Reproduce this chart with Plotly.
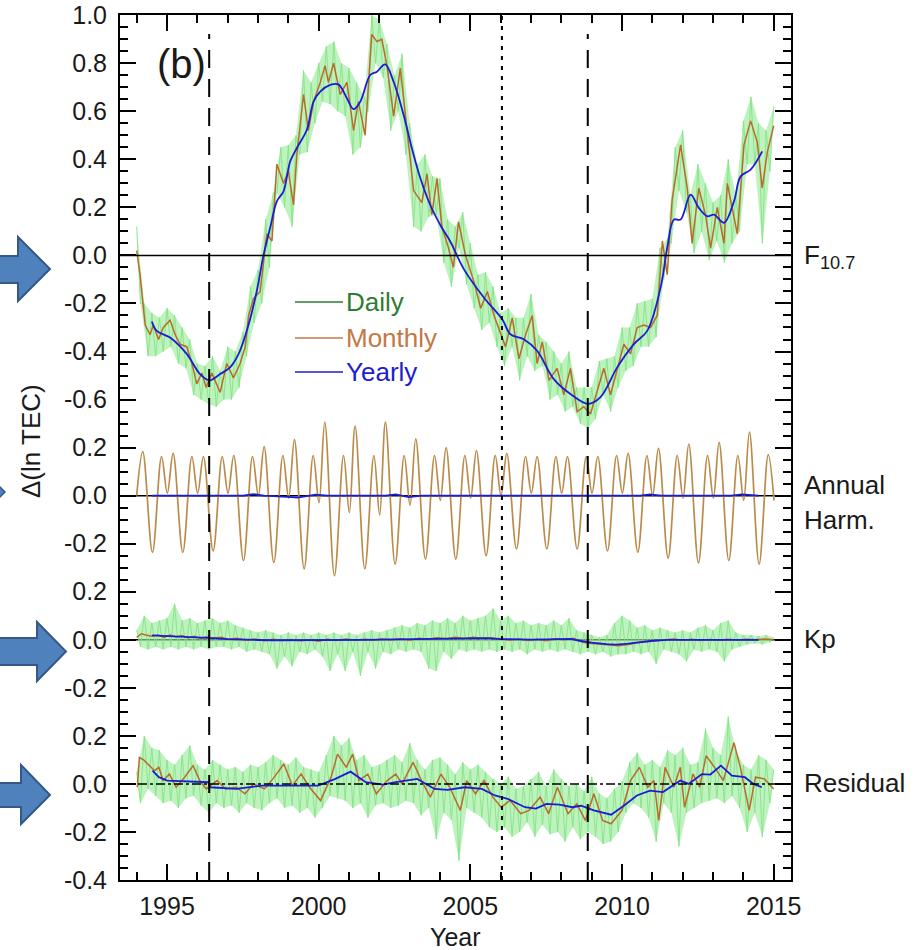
import numpy as np
import plotly.graph_objects as go

# ===================== DATA =====================
# Panel zero offsets on the shared stacked y-axis, and the tick values labelled in each panel
PANEL_OFFSET = {"F10.7": 0.0, "Annual": -1.0, "Kp": -1.6, "Residual": -2.2}
PANEL_TICKS = {
    "F10.7": [1.0, 0.8, 0.6, 0.4, 0.2, 0.0, -0.2, -0.4, -0.6],
    "Annual": [0.2, 0.0, -0.2],
    "Kp": [0.2, 0.0, -0.2],
    "Residual": [0.2, 0.0, -0.2, -0.4],
}
X_TICK_YEARS = [1995, 2000, 2005, 2010, 2015]
EVENT_DASHED = [1996.39, 2008.87]      # solar minima
EVENT_DOTTED = [2006.04]

# Daily series sampled as upper/lower excursions: upper at 1994.0+0.25k, lower at 1994.125+0.25k
DAILY_T0_HI = 1994.0
DAILY_T0_LO = 1994.125
DAILY_STEP = 0.25

# ---- F10.7 term ----
F_MONTHLY_T = [1994.00, 1994.11, 1994.28, 1994.44, 1994.55, 1994.72, 1994.88, 1995.10, 1995.27, 1995.43, 1995.65, 1995.82,
               1995.98, 1996.15, 1996.29, 1996.48, 1996.75, 1996.97, 1997.19, 1997.41, 1997.58, 1997.69, 1997.85, 1998.07,
               1998.29, 1998.46, 1998.62, 1998.84, 1999.00, 1999.17, 1999.28, 1999.50, 1999.66, 1999.83, 2000.05, 2000.21,
               2000.32, 2000.49, 2000.71, 2000.93, 2001.15, 2001.31, 2001.53, 2001.75, 2001.92, 2002.08, 2002.25, 2002.47,
               2002.69, 2002.91, 2003.13, 2003.40, 2003.57, 2003.73, 2003.90, 2004.06, 2004.28, 2004.44, 2004.61, 2004.84,
               2005.12, 2005.34, 2005.56, 2005.78, 2006.00, 2006.16, 2006.38, 2006.60, 2006.82, 2007.04, 2007.20, 2007.37,
               2007.59, 2007.86, 2008.08, 2008.30, 2008.52, 2008.74, 2008.96, 2009.18, 2009.40, 2009.62, 2009.84, 2010.06,
               2010.28, 2010.50, 2010.72, 2010.94, 2011.16, 2011.33, 2011.49, 2011.65, 2011.93, 2012.15, 2012.31, 2012.53,
               2012.75, 2012.92, 2013.14, 2013.36, 2013.47, 2013.80, 2014.02, 2014.24, 2014.46, 2014.62, 2014.79, 2015.00]
F_MONTHLY_V = [0.02, -0.08, -0.29, -0.33, -0.29, -0.35, -0.30, -0.27, -0.33, -0.37, -0.38, -0.45,
               -0.535, -0.49, -0.55, -0.49, -0.57, -0.45, -0.51, -0.45, -0.38, -0.25, -0.18, -0.15,
               0.09, 0.06, 0.38, 0.30, 0.35, 0.21, 0.42, 0.67, 0.52, 0.64, 0.72, 0.79,
               0.72, 0.80, 0.67, 0.72, 0.52, 0.64, 0.50, 0.92, 0.89, 0.90, 0.79, 0.58,
               0.78, 0.52, 0.27, 0.22, 0.34, 0.17, 0.32, 0.12, 0.03, -0.05, 0.14, 0.00,
               -0.11, -0.22, -0.15, -0.25, -0.33, -0.38, -0.26, -0.43, -0.33, -0.25, -0.45, -0.36,
               -0.52, -0.47, -0.58, -0.47, -0.65, -0.63, -0.66, -0.56, -0.47, -0.58, -0.47, -0.37,
               -0.41, -0.30, -0.29, -0.30, -0.25, 0.06, -0.08, 0.23, 0.46, 0.28, 0.05, 0.28,
               0.17, 0.03, 0.20, 0.05, 0.30, 0.09, 0.46, 0.56, 0.47, 0.28, 0.43, 0.54]
F_YEARLY_T = [1994.50, 1994.66, 1995.10, 1995.65, 1996.09, 1996.40, 1996.75, 1997.08, 1997.36, 1997.63,
              1997.96, 1998.18, 1998.40, 1998.62, 1998.84, 1999.06, 1999.28, 1999.61, 1999.83, 2000.05,
              2000.38, 2000.65, 2000.93, 2001.15, 2001.37, 2001.70, 2001.92, 2002.19, 2002.47, 2002.80,
              2003.07, 2003.35, 2003.67, 2004.06, 2004.33, 2004.79, 2005.45, 2006.05, 2006.32, 2006.76,
              2007.20, 2007.75, 2008.30, 2008.88, 2009.29, 2009.84, 2010.39, 2010.83, 2011.27, 2011.49,
              2011.71, 2011.93, 2012.26, 2012.53, 2012.81, 2013.03, 2013.36, 2013.69, 2013.91, 2014.24, 2014.62]
F_YEARLY_V = [-0.275, -0.314, -0.342, -0.410, -0.494, -0.520, -0.494, -0.466, -0.410, -0.314,
              -0.148, 0.000, 0.115, 0.225, 0.267, 0.391, 0.447, 0.523, 0.640, 0.682,
              0.710, 0.712, 0.654, 0.609, 0.640, 0.751, 0.765, 0.795, 0.723, 0.585,
              0.447, 0.322, 0.212, 0.115, 0.060, -0.058, -0.176, -0.266, -0.328, -0.349,
              -0.397, -0.515, -0.577, -0.618, -0.590, -0.466, -0.369, -0.314, -0.134, 0.032,
              0.149, 0.149, 0.253, 0.198, 0.163, 0.170, 0.136, 0.225, 0.329, 0.357, 0.433]
F_DAILY_HI = [0.12, -0.20, -0.24, -0.26, -0.22, -0.25, -0.30, -0.35, -0.45, -0.46, -0.42, -0.48,
              -0.38, -0.40, -0.32, -0.13, -0.06, 0.15, 0.26, 0.45, 0.46, 0.50, 0.77, 0.72,
              0.80, 0.87, 0.89, 0.80, 0.78, 0.72, 0.66, 1.00, 0.98, 0.88, 0.75, 0.84,
              0.55, 0.38, 0.42, 0.33, 0.32, 0.15, 0.12, 0.18, 0.05, -0.08, -0.07, -0.13,
              -0.24, -0.22, -0.26, -0.26, -0.16, -0.33, -0.36, -0.40, -0.45, -0.40, -0.55, -0.55,
              -0.55, -0.44, -0.43, -0.42, -0.30, -0.30, -0.20, -0.19, -0.18, 0.03, 0.07, 0.45,
              0.52, 0.25, 0.38, 0.30, 0.22, 0.25, 0.40, 0.25, 0.56, 0.66, 0.55, 0.52, 0.62]
F_DAILY_LO = [-0.20, -0.42, -0.42, -0.40, -0.38, -0.45, -0.47, -0.58, -0.60, -0.62, -0.63, -0.60,
              -0.60, -0.55, -0.42, -0.28, -0.20, -0.05, 0.26, 0.20, 0.12, 0.42, 0.43, 0.55,
              0.64, 0.63, 0.60, 0.58, 0.42, 0.45, 0.60, 0.80, 0.74, 0.52, 0.60, 0.42,
              0.12, 0.10, 0.16, 0.17, -0.03, -0.13, 0.03, -0.12, -0.22, -0.31, -0.28, -0.38,
              -0.46, -0.38, -0.52, -0.42, -0.48, -0.46, -0.60, -0.58, -0.65, -0.63, -0.70, -0.72,
              -0.68, -0.58, -0.65, -0.55, -0.48, -0.46, -0.38, -0.38, -0.34, -0.10, 0.05, 0.27,
              0.18, 0.01, 0.10, -0.02, 0.06, -0.03, 0.05, 0.10, 0.38, 0.38, 0.05, 0.35]

# ---- Annual harmonic term: extrema per year (peak ~Mar, trough ~Jul, peak ~Oct, dip ~Jan) ----
ANN_START = 0.0
ANN_YEARS = list(range(1994, 2015))
ANN_PHASE = [0.20, 0.52, 0.82, 1.01]
ANN_PEAK1 = [0.183, 0.176, 0.163, 0.167, 0.204, 0.233, 0.306, 0.290, 0.306, 0.236, 0.200,
             0.188, 0.176, 0.163, 0.163, 0.163, 0.176, 0.197, 0.215, 0.222, 0.264]
ANN_TROUGH = [-0.236, -0.236, -0.230, -0.270, -0.278, -0.305, -0.333, -0.305, -0.285, -0.264, -0.264,
              -0.250, -0.222, -0.222, -0.222, -0.230, -0.235, -0.260, -0.280, -0.270, -0.285]
ANN_PEAK2 = [0.163, 0.163, 0.163, 0.163, 0.167, 0.167, 0.167, 0.167, 0.167, 0.167, 0.167,
             0.167, 0.163, 0.163, 0.163, 0.167, 0.167, 0.167, 0.167, 0.167, 0.171]
ANN_DIP = [0.01, 0.01, 0.01, 0.00, -0.01, -0.03, -0.07, -0.08, -0.04, -0.02, -0.01,
           0.00, 0.01, 0.01, 0.01, 0.01, 0.00, -0.01, -0.01, -0.02, -0.02]
ANN_YEARLY_T = [1994.5, 1997.5, 1997.85, 1998.2, 1999.1, 1999.3, 1999.5, 1999.9, 2000.3, 2002.2,
                2002.54, 2002.97, 2003.4, 2010.6, 2010.92, 2011.3, 2013.6, 2013.95, 2014.5]
ANN_YEARLY_V = [0.0, 0.0, 0.006, 0.0, -0.006, -0.008, -0.004, 0.004, 0.0, 0.0,
                0.005, -0.006, 0.0, 0.0, 0.005, 0.0, 0.0, 0.005, 0.0]

# ---- Kp term ----
KP_MONTHLY_T = [1994.0, 1994.15, 1994.3, 1994.5, 1994.7, 1994.9, 1995.1, 1995.3, 1995.5, 1995.7, 1995.9, 1996.1,
                1996.3, 1996.5, 1996.8, 1997.0, 1997.3, 1997.6, 1997.9, 1998.2, 1998.5, 1998.8, 1999.1, 1999.4,
                1999.7, 2000.0, 2000.3, 2000.6, 2000.9, 2001.2, 2001.5, 2001.8, 2002.1, 2002.4, 2002.7, 2003.0,
                2003.3, 2003.6, 2003.9, 2004.2, 2004.5, 2004.8, 2005.1, 2005.4, 2005.7, 2006.0, 2006.3, 2006.6,
                2006.9, 2007.2, 2007.5, 2007.8, 2008.1, 2008.4, 2008.7, 2009.0, 2009.3, 2009.6, 2009.9, 2010.2,
                2010.5, 2010.8, 2011.1, 2011.4, 2011.7, 2012.0, 2012.3, 2012.6, 2012.9, 2013.2, 2013.5, 2013.8,
                2014.1, 2014.4, 2014.7, 2015.0]
KP_MONTHLY_V = [0.010, 0.025, 0.020, 0.015, 0.020, 0.010, 0.020, 0.012, 0.018, 0.008, 0.015, 0.005,
                0.012, 0.006, 0.010, 0.002, 0.006, -0.002, 0.003, -0.004, 0.002, -0.003, 0.001, -0.004,
                0.000, -0.006, 0.002, -0.003, 0.003, -0.002, 0.002, -0.001, 0.003, 0.000, 0.004, -0.002,
                0.006, 0.002, 0.008, 0.004, 0.010, 0.005, 0.010, 0.006, 0.008, 0.004, -0.002, 0.003,
                -0.003, 0.002, -0.004, 0.004, 0.000, 0.006, -0.010, -0.016, -0.020, -0.022, -0.025, -0.020,
                -0.012, -0.008, -0.004, 0.000, 0.003, -0.002, 0.002, -0.003, 0.001, -0.002, 0.002, -0.001,
                0.002, 0.000, 0.003, 0.000]
KP_YEARLY_T = [1994.5, 1995.0, 1995.5, 1996.0, 1996.5, 1997.0, 1997.5, 1998.0, 1998.5, 1999.0,
               1999.5, 2000.0, 2000.5, 2001.0, 2001.5, 2002.0, 2002.5, 2003.0, 2003.5, 2004.0,
               2004.5, 2005.0, 2005.5, 2006.0, 2006.5, 2007.0, 2007.5, 2008.0, 2008.3, 2008.6,
               2009.0, 2009.5, 2009.8, 2010.2, 2010.6, 2011.0, 2011.5, 2012.0, 2013.0, 2014.0, 2014.5]
KP_YEARLY_V = [0.018, 0.016, 0.013, 0.010, 0.007, 0.003, 0.000, -0.001, -0.002, -0.002,
               -0.003, -0.002, -0.001, 0.000, 0.000, 0.001, 0.002, 0.003, 0.004, 0.005,
               0.006, 0.007, 0.007, 0.003, 0.001, 0.001, 0.002, 0.003, 0.004, -0.004,
               -0.012, -0.018, -0.020, -0.016, -0.010, -0.004, 0.000, 0.000, 0.000, 0.000, 0.000]
KP_DAILY_HI = [0.04, 0.10, 0.07, 0.08, 0.09, 0.15, 0.08, 0.09, 0.07, 0.08, 0.09, 0.07,
               0.08, 0.06, 0.05, 0.04, 0.03, 0.04, 0.03, 0.02, 0.03, 0.02, 0.03, 0.02,
               0.03, 0.02, 0.03, 0.02, 0.03, 0.02, 0.03, 0.04, 0.03, 0.04, 0.05, 0.06,
               0.05, 0.07, 0.06, 0.08, 0.07, 0.09, 0.07, 0.10, 0.08, 0.09, 0.10, 0.13,
               0.08, 0.10, 0.07, 0.08, 0.06, 0.07, 0.06, 0.08, 0.06, 0.09, 0.04, 0.03,
               0.02, 0.01, 0.02, 0.07, 0.10, 0.08, 0.05, 0.06, 0.04, 0.05, 0.04, 0.03,
               0.04, 0.03, 0.05, 0.06, 0.04, 0.07, 0.08, 0.03, 0.02, 0.02, 0.015, 0.02, 0.01]
KP_DAILY_LO = [-0.03, -0.04, -0.03, -0.04, -0.03, -0.04, -0.03, -0.04, -0.03, -0.04, -0.03, -0.03,
               -0.04, -0.03, -0.05, -0.04, -0.05, -0.06, -0.12, -0.07, -0.11, -0.05, -0.06, -0.04,
               -0.07, -0.13, -0.06, -0.13, -0.05, -0.15, -0.05, -0.12, -0.05, -0.06, -0.04, -0.05,
               -0.04, -0.05, -0.12, -0.13, -0.05, -0.08, -0.04, -0.05, -0.04, -0.05, -0.04, -0.05,
               -0.04, -0.05, -0.04, -0.06, -0.04, -0.05, -0.04, -0.05, -0.04, -0.05, -0.06, -0.05,
               -0.06, -0.05, -0.07, -0.06, -0.06, -0.05, -0.06, -0.05, -0.10, -0.04, -0.05, -0.06,
               -0.09, -0.04, -0.05, -0.04, -0.05, -0.09, -0.04, -0.03, -0.02, -0.015, -0.02, -0.01]

# ---- Residual term ----
RES_MONTHLY_T = [1994.02, 1994.09, 1994.23, 1994.37, 1994.59, 1994.73, 1994.87, 1995.08, 1995.30, 1995.58,
                 1995.86, 1996.08, 1996.29, 1996.65, 1996.93, 1997.28, 1997.57, 1997.85, 1998.21, 1998.49,
                 1998.85, 1999.13, 1999.42, 1999.70, 2000.06, 2000.41, 2000.62, 2000.91, 2001.12, 2001.33,
                 2001.62, 2001.90, 2002.26, 2002.54, 2002.75, 2003.11, 2003.39, 2003.68, 2004.03, 2004.32,
                 2004.67, 2004.88, 2005.17, 2005.45, 2005.74, 2006.02, 2006.31, 2006.66, 2006.94, 2007.30,
                 2007.58, 2007.87, 2008.22, 2008.51, 2008.79, 2009.07, 2009.36, 2009.64, 2010.00, 2010.28,
                 2010.57, 2010.85, 2011.05, 2011.21, 2011.42, 2011.71, 2011.92, 2012.06, 2012.34, 2012.56,
                 2012.77, 2013.05, 2013.34, 2013.69, 2013.90, 2014.19, 2014.40, 2014.69, 2014.90, 2015.00]
RES_MONTHLY_V = [-0.014, 0.110, 0.100, 0.083, 0.055, 0.069, 0.014, 0.041, -0.014, 0.028,
                 0.076, 0.014, -0.021, 0.014, -0.021, -0.014, -0.041, 0.000, -0.021, 0.021,
                 0.083, -0.007, 0.041, -0.014, -0.069, 0.028, 0.124, 0.069, 0.124, 0.014,
                 0.041, -0.041, 0.014, 0.041, 0.000, 0.090, 0.014, -0.055, 0.041, -0.014,
                 -0.110, 0.014, -0.041, 0.014, -0.055, -0.097, -0.069, -0.124, -0.110, -0.055,
                 -0.124, -0.014, -0.124, -0.083, -0.152, -0.041, -0.152, -0.166, -0.110, 0.014,
                 0.069, -0.014, 0.014, -0.152, 0.069, -0.014, 0.069, -0.097, 0.041, -0.014,
                 0.117, 0.069, 0.014, 0.172, 0.069, -0.110, 0.028, 0.021, -0.007, -0.021]
RES_YEARLY_T = [1994.52, 1994.73, 1995.01, 1995.58, 1996.36, 1996.43, 1997.28, 1998.14, 1999.13, 1999.98,
                2000.55, 2001.05, 2001.55, 2002.11, 2002.54, 2003.25, 2003.82, 2004.25, 2004.81, 2005.38,
                2005.81, 2006.23, 2006.80, 2007.16, 2007.51, 2007.94, 2008.36, 2008.65, 2009.07, 2009.64,
                2010.07, 2010.49, 2010.92, 2011.35, 2011.92, 2012.20, 2012.63, 2012.91, 2013.26, 2013.62,
                2014.05, 2014.33, 2014.61]
RES_YEARLY_V = [0.055, 0.028, 0.014, 0.010, 0.007, -0.014, -0.021, -0.007, -0.007, -0.007,
                0.021, 0.051, 0.007, -0.003, 0.007, 0.021, -0.021, -0.025, -0.014, -0.021,
                -0.048, -0.062, -0.097, -0.103, -0.083, -0.086, -0.097, -0.091, -0.110, -0.128,
                -0.090, -0.048, -0.028, -0.034, 0.014, 0.000, 0.041, 0.039, 0.076, 0.034,
                0.028, 0.000, -0.014]
RES_DAILY_HI = [0.05, 0.20, 0.15, 0.14, 0.10, 0.08, 0.12, 0.16, 0.08, 0.06, 0.10, 0.08,
                0.06, 0.07, 0.05, 0.08, 0.07, 0.09, 0.12, 0.10, 0.08, 0.11, 0.07, 0.06,
                0.05, 0.12, 0.20, 0.16, 0.19, 0.10, 0.12, 0.07, 0.08, 0.10, 0.12, 0.09,
                0.17, 0.10, 0.06, 0.10, 0.11, 0.08, 0.04, 0.09, 0.06, 0.08, 0.05, 0.02,
                0.00, 0.03, -0.02, -0.01, 0.02, 0.05, -0.01, 0.06, 0.02, -0.01, 0.00, -0.03,
                0.03, -0.04, -0.06, -0.02, 0.01, 0.09, 0.13, 0.08, 0.10, 0.07, 0.14, 0.12,
                0.15, 0.08, 0.09, 0.23, 0.15, 0.12, 0.28, 0.14, 0.08, 0.06, 0.12, 0.10, 0.06]
RES_DAILY_LO = [-0.08, -0.02, -0.05, -0.08, -0.07, -0.10, -0.06, -0.05, -0.09, -0.12, -0.08, -0.10,
                -0.09, -0.12, -0.08, -0.10, -0.11, -0.08, -0.06, -0.10, -0.09, -0.12, -0.10, -0.14,
                -0.10, -0.05, -0.06, -0.07, -0.10, -0.08, -0.14, -0.09, -0.08, -0.10, -0.09, -0.07,
                -0.08, -0.13, -0.10, -0.23, -0.12, -0.15, -0.32, -0.10, -0.12, -0.14, -0.18, -0.20,
                -0.18, -0.22, -0.20, -0.16, -0.22, -0.17, -0.21, -0.20, -0.24, -0.18, -0.23, -0.20,
                -0.22, -0.25, -0.24, -0.20, -0.12, -0.08, -0.10, -0.14, -0.24, -0.08, -0.12, -0.26,
                -0.12, -0.10, -0.08, -0.07, -0.06, -0.08, -0.05, -0.10, -0.20, -0.12, -0.22, -0.08]

# ===================== STYLE =====================
FONT = "Liberation Sans, Arial, sans-serif"
TXT = "#1a1a1a"
C_DAILY = "rgb(132,228,132)"
C_DAILY_BAND = "rgba(150,234,150,0.62)"
C_MONTHLY = "rgb(184,108,42)"
C_MONTHLY_ANN = "rgb(186,140,75)"
C_YEARLY = "rgb(28,28,215)"
C_ARROW = "rgb(79,129,189)"
C_ARROW_EDGE = "rgb(52,88,135)"

PLOT_L, PLOT_R, PLOT_T, PLOT_B = 120, 791, 15, 880
W, H = PLOT_R - PLOT_L, PLOT_B - PLOT_T


def px(x):
    return (x - PLOT_L) / W


def py(y):
    return (PLOT_B - y) / H


def daily_parts(hi, lo):
    th = DAILY_T0_HI + DAILY_STEP * np.arange(len(hi))
    tl = DAILY_T0_LO + DAILY_STEP * np.arange(len(lo))
    hi = np.asarray(hi, float)
    lo = np.asarray(lo, float)
    t = np.concatenate([th, tl])
    v = np.concatenate([hi, lo])
    order = np.argsort(t, kind="stable")
    return th, hi, tl, lo, t[order], v[order]


def line(x, y, panel, color, width, shape="linear"):
    off = PANEL_OFFSET[panel]
    return go.Scatter(x=list(x), y=[v + off for v in y], mode="lines",
                      line=dict(color=color, width=width, shape=shape),
                      hoverinfo="skip", showlegend=False)


fig = go.Figure()

# daily (light green): envelope band + zigzag
for panel, hi, lo in [("F10.7", F_DAILY_HI, F_DAILY_LO), ("Kp", KP_DAILY_HI, KP_DAILY_LO),
                      ("Residual", RES_DAILY_HI, RES_DAILY_LO)]:
    th, vh, tl, vl, t, v = daily_parts(hi, lo)
    off = PANEL_OFFSET[panel]
    bx = list(th) + list(tl[::-1])
    by = [a + off for a in vh] + [a + off for a in vl[::-1]]
    fig.add_trace(go.Scatter(x=bx, y=by, mode="lines", fill="toself", fillcolor=C_DAILY_BAND,
                             line=dict(width=0, color=C_DAILY_BAND), hoverinfo="skip", showlegend=False))
    fig.add_trace(line(t, v, panel, C_DAILY, 0.9))

# annual harmonic (monthly) from yearly extrema
ann_t, ann_v = [ANN_YEARS[0] * 1.0], [ANN_START]
for i, yr in enumerate(ANN_YEARS):
    for ph, arr in zip(ANN_PHASE, [ANN_PEAK1, ANN_TROUGH, ANN_PEAK2, ANN_DIP]):
        ann_t.append(yr + ph)
        ann_v.append(arr[i])
fig.add_trace(line(ann_t, ann_v, "Annual", C_MONTHLY_ANN, 1.7, shape="spline"))

# monthly (brown)
fig.add_trace(line(F_MONTHLY_T, F_MONTHLY_V, "F10.7", C_MONTHLY, 1.5))
fig.add_trace(line(KP_MONTHLY_T, KP_MONTHLY_V, "Kp", C_MONTHLY, 1.5))
fig.add_trace(line(RES_MONTHLY_T, RES_MONTHLY_V, "Residual", C_MONTHLY, 1.5))

# yearly (blue)
fig.add_trace(line(F_YEARLY_T, F_YEARLY_V, "F10.7", C_YEARLY, 1.8, shape="spline"))
fig.add_trace(line(ANN_YEARLY_T, ANN_YEARLY_V, "Annual", C_YEARLY, 1.8))
fig.add_trace(line(KP_YEARLY_T, KP_YEARLY_V, "Kp", C_YEARLY, 1.8))
fig.add_trace(line(RES_YEARLY_T, RES_YEARLY_V, "Residual", C_YEARLY, 1.8))

shapes = []
# panel zero lines
for panel, dash, layer in [("F10.7", "solid", "above"), ("Annual", "solid", "below"),
                           ("Kp", "solid", "below"), ("Residual", "dashdot", "above")]:
    shapes.append(dict(type="line", xref="paper", x0=0, x1=1, yref="y",
                       y0=PANEL_OFFSET[panel], y1=PANEL_OFFSET[panel],
                       line=dict(color="black", width=1.5, dash=dash), layer=layer))
# event lines
for yr in EVENT_DASHED:
    shapes.append(dict(type="line", xref="x", x0=yr, x1=yr, yref="paper", y0=0, y1=0.978,
                       line=dict(color="black", width=2, dash="18px,11px"), layer="above"))
for yr in EVENT_DOTTED:
    shapes.append(dict(type="line", xref="x", x0=yr, x1=yr, yref="paper", y0=0, y1=1,
                       line=dict(color="black", width=2, dash="4px,6px"), layer="above"))


# left block arrows
def arrow(x_body_end, body_top, body_bot, head_top, head_bot, tip_x, tip_y):
    pts = [(-4, body_top), (x_body_end, body_top), (x_body_end, head_top), (tip_x, tip_y),
           (x_body_end, head_bot), (x_body_end, body_bot), (-4, body_bot)]
    d = "M " + " L ".join(f"{px(a):.5f},{py(b):.5f}" for a, b in pts) + " Z"
    return dict(type="path", xref="paper", yref="paper", path=d, fillcolor=C_ARROW,
                line=dict(color=C_ARROW_EDGE, width=2), layer="above")


shapes.append(arrow(18, 256, 283, 237, 301, 50, 269))
shapes.append(arrow(37, 638, 665, 622, 681, 66, 651.5))
shapes.append(arrow(21, 783, 807, 765, 824, 50, 795))
shapes.append(dict(type="path", xref="paper", yref="paper",
                   path=f"M {px(-4):.5f},{py(483):.5f} L {px(5):.5f},{py(492):.5f} L {px(-4):.5f},{py(501):.5f} Z",
                   fillcolor=C_ARROW, line=dict(color=C_ARROW_EDGE, width=1.5), layer="above"))

# legend (drawn)
LEGEND = [("Daily", "rgb(46,125,50)", "rgb(46,125,50)", 302),
          ("Monthly", "rgb(196,120,68)", "rgb(196,120,68)", 338),
          ("Yearly", "rgb(30,30,205)", "rgb(30,30,205)", 372)]
annotations = []
for name, lc, tc, yy in LEGEND:
    shapes.append(dict(type="line", xref="paper", yref="paper", x0=px(295), x1=px(343),
                       y0=py(yy), y1=py(yy), line=dict(color=lc, width=1.5)))
    annotations.append(dict(text=name, xref="paper", yref="paper", x=px(344), y=py(yy),
                            xanchor="left", yanchor="middle", showarrow=False,
                            font=dict(family=FONT, size=26, color=tc)))

# right-hand panel labels
for text, yy in [("F<sub>10.7</sub>", 256), ("Annual", 485), ("Harm.", 520), ("Kp", 639), ("Residual", 783)]:
    annotations.append(dict(text=text, xref="paper", yref="paper", x=px(802), y=py(yy),
                            xanchor="left", yanchor="middle", showarrow=False,
                            font=dict(family=FONT, size=26, color=TXT)))

annotations.append(dict(text="(b)", xref="paper", yref="paper", x=px(181), y=py(64),
                        xanchor="center", yanchor="middle", showarrow=False,
                        font=dict(family=FONT, size=40, color=TXT)))
annotations.append(dict(text="Δ(ln TEC)", xref="paper", yref="paper", x=px(31), y=py(441),
                        xanchor="center", yanchor="middle", showarrow=False, textangle=-90,
                        font=dict(family=FONT, size=26, color=TXT)))
annotations.append(dict(text="Year", xref="paper", yref="paper", x=px(455), y=py(937),
                        xanchor="center", yanchor="middle", showarrow=False,
                        font=dict(family=FONT, size=25, color=TXT)))

# y tick values / labels
tickvals, ticktext = [], []
for panel, vals in PANEL_TICKS.items():
    for v in vals:
        tickvals.append(round(v + PANEL_OFFSET[panel], 3))
        ticktext.append(f"{v:.1f}" if abs(v) > 1e-9 else "0.0")

fig.update_layout(
    width=918, height=950,
    margin=dict(l=PLOT_L, r=918 - PLOT_R, t=PLOT_T, b=950 - PLOT_B, autoexpand=False),
    plot_bgcolor="white", paper_bgcolor="white",
    showlegend=False,
    font=dict(family=FONT, size=26, color=TXT),
    shapes=shapes, annotations=annotations,
    xaxis=dict(range=[1993.45, 2015.57], tickmode="array", tickvals=X_TICK_YEARS,
               ticktext=[str(y) for y in X_TICK_YEARS], automargin=False,
               ticks="inside", ticklen=16, tickwidth=1.5, tickcolor="black",
               showline=True, linecolor="black", linewidth=2, mirror="ticks",
               showgrid=False, zeroline=False, ticklabelstandoff=3, ticklabeloverflow="allow",
               minor=dict(tickmode="linear", tick0=1994, dtick=1, ticks="inside", ticklen=8,
                          tickwidth=1.5, tickcolor="black", showgrid=False),
               tickfont=dict(family=FONT, size=25, color=TXT)),
    yaxis=dict(range=[-2.6, 1.0008], tickmode="array", tickvals=tickvals, ticktext=ticktext,
               automargin=False,
               ticks="inside", ticklen=16, tickwidth=1.5, tickcolor="black",
               showline=True, linecolor="black", linewidth=2, mirror="ticks",
               showgrid=False, zeroline=False, ticklabelstandoff=6, ticklabeloverflow="allow",
               minor=dict(tickmode="linear", tick0=0, dtick=0.05, ticks="inside", ticklen=8,
                          tickwidth=1.5, tickcolor="black", showgrid=False),
               tickfont=dict(family=FONT, size=25, color=TXT)),
)

fig.write_html("out.html")
